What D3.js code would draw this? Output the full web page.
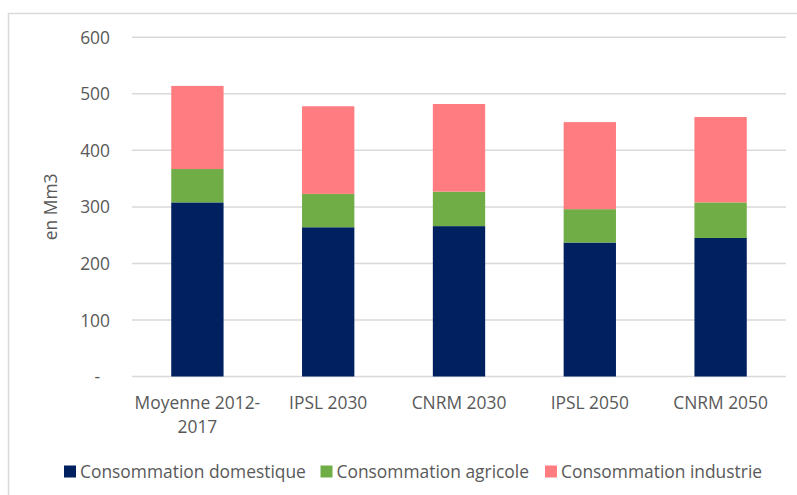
<!DOCTYPE html>
<html>
<head>
<meta charset="utf-8">
<script src="https://cdn.jsdelivr.net/npm/d3@7"></script>
<style>
  html, body { margin: 0; padding: 0; background: #fff; }
  svg { display: block; font-family: "Open Sans", "Noto Sans", sans-serif; }
</style>
</head>
<body>
<svg id="chart" width="797" height="495"></svg>
<script>
// Water consumption by use, in Mm3
const categories = [["Moyenne 2012-", "2017"], ["IPSL 2030"], ["CNRM 2030"], ["IPSL 2050"], ["CNRM 2050"]];
const seriesNames = ["Consommation domestique", "Consommation agricole", "Consommation industrie"];
const domestique = [308, 264, 266, 237, 245];
const agricole = [59, 59, 61, 59, 63];
const industrie = [147, 155, 155, 154, 151];
const colors = ["#002060", "#70AD47", "#FF7C80"];
const yTicks = [0, 100, 200, 300, 400, 500, 600];
const yTickLabels = ["-", "100", "200", "300", "400", "500", "600"];
const yTitle = "en Mm3";

const svg = d3.select("#chart");
const textColor = "#595959";
const gridColor = "#d9d9d9";
const fontSize = "17.4px";

// outer chart frame
svg.append("rect")
  .attr("x", 8.5).attr("y", 13.5)
  .attr("width", 820).attr("height", 520)
  .attr("fill", "none").attr("stroke", gridColor).attr("stroke-width", 1.5);

const plot = { left: 132, right: 786, top: 37.3, bottom: 376.5 };

const keys = categories.map((c, i) => i);
const x = d3.scaleBand().domain(keys).range([plot.left, plot.right]).paddingInner(0.6).paddingOuter(0.3);
const y = d3.scaleLinear().domain([0, 600]).range([plot.bottom, plot.top]);

// gridlines
svg.append("g")
  .selectAll("line")
  .data(yTicks)
  .join("line")
  .attr("x1", plot.left).attr("x2", plot.right)
  .attr("y1", d => y(d)).attr("y2", d => y(d))
  .attr("stroke", gridColor).attr("stroke-width", 1.5);

// y axis labels
const yAxis = d3.axisLeft(y).tickValues(yTicks).tickSize(0).tickPadding(0)
  .tickFormat((d, i) => yTickLabels[i]);
const yG = svg.append("g").attr("transform", `translate(110,0)`).call(yAxis);
yG.select(".domain").remove();
yG.selectAll("text").attr("fill", textColor).style("font-size", fontSize)
  .style("font-family", "'Open Sans', sans-serif").attr("dy", "0.35em");
yG.selectAll(".tick").filter(d => d === 0).select("text").attr("dx", "-10px");

// y title
svg.append("text")
  .attr("transform", `translate(57,${(plot.top + plot.bottom) / 2}) rotate(-90)`)
  .attr("text-anchor", "middle")
  .attr("fill", textColor).style("font-size", fontSize)
  .text(yTitle);

// stacked bars
const rows = keys.map(i => ({ key: i, d: domestique[i], a: agricole[i], n: industrie[i] }));
const stack = d3.stack().keys(["d", "a", "n"])(rows);
svg.append("g")
  .selectAll("g")
  .data(stack)
  .join("g")
  .attr("fill", (s, i) => colors[i])
  .selectAll("rect")
  .data(s => s)
  .join("rect")
  .attr("x", d => x(d.data.key))
  .attr("width", x.bandwidth())
  .attr("y", d => y(d[1]))
  .attr("height", d => y(d[0]) - y(d[1]));

// x labels
const xl = svg.append("g");
categories.forEach((lines, i) => {
  const t = xl.append("text")
    .attr("x", x(i) + x.bandwidth() / 2)
    .attr("y", 409)
    .attr("text-anchor", "middle")
    .attr("fill", textColor).style("font-size", fontSize);
  lines.forEach((ln, j) => {
    t.append("tspan").attr("x", x(i) + x.bandwidth() / 2).attr("dy", j === 0 ? 0 : 23.5).text(ln);
  });
});

// legend
const legendX = [64, 320.5, 545];
const lg = svg.append("g");
seriesNames.forEach((name, i) => {
  lg.append("rect").attr("x", legendX[i]).attr("y", 465.5).attr("width", 12).attr("height", 12).attr("fill", colors[i]);
  lg.append("text").attr("x", legendX[i] + 16).attr("y", 477.5)
    .attr("fill", textColor).style("font-size", fontSize).text(name);
});
</script>
</body>
</html>
